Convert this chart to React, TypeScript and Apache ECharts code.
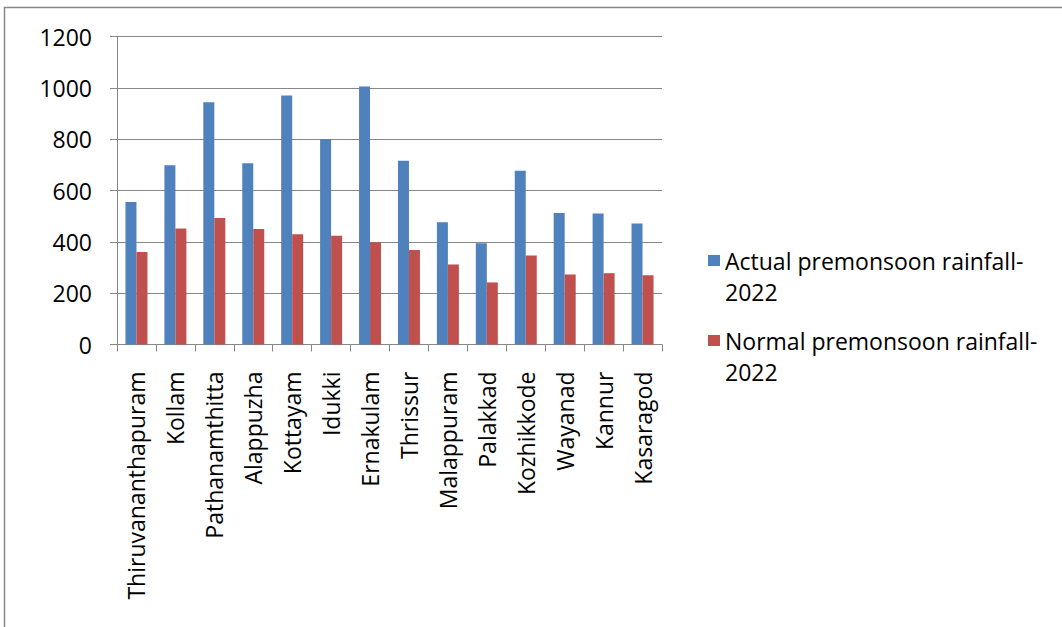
import React, { useEffect, useRef } from "react";
import * as echarts from "echarts";

const districts = [
  "Thiruvananthapuram", "Kollam", "Pathanamthitta", "Alappuzha", "Kottayam", "Idukki",
  "Ernakulam", "Thrissur", "Malappuram", "Palakkad", "Kozhikkode", "Wayanad", "Kannur", "Kasaragod",
];
const actualRainfall = [556, 699, 944, 707, 971, 800, 1006, 716, 477, 395, 677, 513, 511, 472];
const normalRainfall = [361, 452, 493, 450, 430, 424, 399, 368, 312, 242, 347, 273, 278, 270];
const seriesNames = ["Actual premonsoon rainfall-2022", "Normal premonsoon rainfall-2022"];

const FONT = "'Open Sans', sans-serif";
const GRAY = "#878787";

export default function App() {
  const ref = useRef<HTMLDivElement>(null);
  useEffect(() => {
    if (!ref.current) return;
    const chart = echarts.init(ref.current, undefined, { renderer: "svg" });
    const icon = "path://M0,0H12V11H0Z M0,42L0.01,42";
    chart.setOption({
      animation: false,
      backgroundColor: "#ffffff",
      textStyle: { fontFamily: FONT },
      grid: { left: 117, right: 400, top: 36.7, bottom: 282.5, containLabel: false },
      legend: {
        orient: "vertical",
        left: 703,
        top: 240,
        icon,
        itemWidth: 12,
        itemHeight: 42,
        itemGap: 18,
        data: seriesNames,
        formatter: (name: string) => name.replace("-2022", "-\n2022"),
        textStyle: { fontFamily: FONT, fontSize: 23, color: "#000", lineHeight: 31 },
      },
      xAxis: {
        type: "category",
        data: districts,
        axisLine: { lineStyle: { color: GRAY, width: 1 } },
        axisTick: { show: true, length: 7, lineStyle: { color: GRAY } },
        axisLabel: {
          rotate: 90,
          interval: 0,
          margin: 27,
          fontFamily: FONT,
          fontSize: 23,
          color: "#000",
        },
      },
      yAxis: {
        type: "value",
        min: 0,
        max: 1200,
        interval: 200,
        axisLine: { show: true, lineStyle: { color: GRAY, width: 1 } },
        axisTick: { show: true, length: 7, lineStyle: { color: GRAY } },
        splitLine: { lineStyle: { color: GRAY, width: 1 } },
        axisLabel: {
          margin: 25,
          fontFamily: FONT,
          fontSize: 23,
          color: "#000",
          formatter: (v: number) => String(v),
        },
      },
      series: [
        {
          name: seriesNames[0],
          type: "bar",
          data: actualRainfall,
          barWidth: 11,
          barGap: "0%",
          itemStyle: { color: "#4F81BD" },
        },
        {
          name: seriesNames[1],
          type: "bar",
          data: normalRainfall,
          barWidth: 11,
          barGap: "0%",
          itemStyle: { color: "#C0504D" },
        },
      ],
      graphic: [
        {
          type: "rect",
          shape: { x: 4.5, y: 7.5, width: 1200, height: 800 },
          style: { fill: "none", stroke: GRAY, lineWidth: 1.5 },
          silent: true,
        },
      ],
    });
    return () => chart.dispose();
  }, []);
  return (
    <div
      ref={ref}
      style={{ position: "absolute", left: 0, top: 0, width: 1062, height: 627 }}
    />
  );
}
